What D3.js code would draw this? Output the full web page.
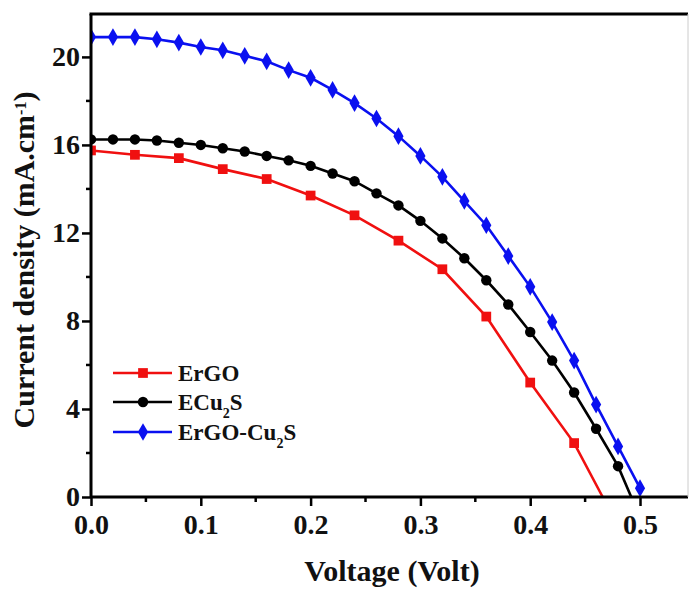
<!DOCTYPE html>
<html>
<title>J-V curves</title>
<meta charset="UTF-8">
<script type="text/javascript" src="https://d3js.org/d3.v7.min.js"></script>
<style type="text/css">
	body { margin:0; background:white; }
	text { font-family: "Liberation Serif", "Times New Roman", serif; font-weight: bold; fill: #111; }
</style>
<body>
<svg id="viz"></svg>
<script type="text/javascript">

// voltage (V) and current density (mA/cm2)
var voltErgo = [0, 0.04, 0.08, 0.12, 0.16, 0.20, 0.24, 0.28, 0.32, 0.36, 0.40, 0.44, 0.466];
var curErgo  = [15.75, 15.55, 15.4, 14.9, 14.45, 13.7, 12.8, 11.65, 10.35, 8.2, 5.2, 2.45, 0];

var voltCu2s = [0, 0.02, 0.04, 0.06, 0.08, 0.10, 0.12, 0.14, 0.16, 0.18, 0.20, 0.22, 0.24,
	0.26, 0.28, 0.30, 0.32, 0.34, 0.36, 0.38, 0.40, 0.42, 0.44, 0.46, 0.48, 0.492];
var curCu2s  = [16.25, 16.25, 16.25, 16.2, 16.1, 16.0, 15.85, 15.7, 15.5, 15.3, 15.05, 14.7, 14.35,
	13.8, 13.25, 12.55, 11.75, 10.85, 9.85, 8.75, 7.5, 6.2, 4.75, 3.1, 1.4, 0];

var voltMix = [0, 0.02, 0.04, 0.06, 0.08, 0.10, 0.12, 0.14, 0.16, 0.18, 0.20, 0.22, 0.24,
	0.26, 0.28, 0.30, 0.32, 0.34, 0.36, 0.38, 0.40, 0.42, 0.44, 0.46, 0.48, 0.50];
var curMix  = [20.9, 20.9, 20.9, 20.8, 20.65, 20.45, 20.3, 20.05, 19.8, 19.4, 19.05, 18.5, 17.9,
	17.2, 16.4, 15.5, 14.55, 13.45, 12.35, 10.95, 9.55, 7.95, 6.2, 4.2, 2.3, 0.4];

var xTicks = [0, 0.1, 0.2, 0.3, 0.4, 0.5];
var yTicks = [0, 4, 8, 12, 16, 20];

var series = [
	{name: "ErGO", volt: voltErgo, cur: curErgo, color: "#f01010", shape: d3.symbolSquare, size: 95, marks: 12},
	{name: "ECu2S", volt: voltCu2s, cur: curCu2s, color: "#000000", shape: d3.symbolCircle, size: 85, marks: 25},
	{name: "ErGO-Cu2S", volt: voltMix, cur: curMix, color: "#0a10f0", shape: d3.symbolDiamond, size: 90, marks: 26}
];

var W = 690, H = 591;
var padL = 91, padR = 688, padT = 14, padB = 497;

var svg = d3.select("#viz").attr("width", W).attr("height", H);

var xScale = d3.scaleLinear().domain([0, 0.5437]).range([padL, padR]);
var yScale = d3.scaleLinear().domain([0, 21.95]).range([padB, padT]);

// clip so the lines stop at the zero axis
svg.append("clipPath").attr("id", "plotclip")
	.append("rect").attr("x", padL).attr("y", padT).attr("width", padR - padL).attr("height", padB - padT + 4);

var line = d3.line()
	.x(function(d){ return xScale(d[0]); })
	.y(function(d){ return yScale(d[1]); });

var plot = svg.append("g").attr("clip-path", "url(#plotclip)");

series.forEach(function(s){
	var pts = s.volt.map(function(v, i){ return [v, s.cur[i]]; });
	plot.append("path")
		.attr("d", line(pts))
		.attr("fill", "none")
		.attr("stroke", s.color)
		.attr("stroke-width", 2.6);
	plot.selectAll(null)
		.data(pts.slice(0, s.marks))
		.enter().append("path")
		.attr("d", d3.symbol().type(s.shape).size(s.size))
		.attr("transform", function(d){ return "translate(" + xScale(d[0]) + "," + yScale(d[1]) + ")"; })
		.attr("fill", s.color);
});

// axes
var xAxis = d3.axisBottom(xScale).tickValues(xTicks).tickFormat(d3.format(".1f")).tickSize(9).tickPadding(6);
var gx = svg.append("g").attr("transform", "translate(0," + padB + ")").call(xAxis);
gx.selectAll(".tick line").attr("stroke-width", 2.5);
gx.selectAll(".tick text").attr("font-size", "28px").attr("dy", "0.8em");
gx.select(".domain").attr("stroke-width", 3).attr("d", "M" + padL + ",0H" + padR);

svg.append("g").attr("transform", "translate(0," + padB + ")")
	.selectAll("line").data([0.05, 0.15, 0.25, 0.35, 0.45]).enter().append("line")
	.attr("x1", function(d){ return xScale(d); }).attr("x2", function(d){ return xScale(d); })
	.attr("y1", 0).attr("y2", 5).attr("stroke", "#000").attr("stroke-width", 2.5);

var yAxis = d3.axisLeft(yScale).tickValues(yTicks).tickSize(9).tickPadding(2);
var gy = svg.append("g").attr("transform", "translate(" + padL + ",0)").call(yAxis);
gy.selectAll(".tick line").attr("stroke-width", 2.5);
gy.selectAll(".tick text").attr("font-size", "28px");
gy.select(".domain").attr("stroke-width", 3).attr("d", "M0," + padB + "V" + padT);

svg.append("g").attr("transform", "translate(" + padL + ",0)")
	.selectAll("line").data([2, 6, 10, 14, 18]).enter().append("line")
	.attr("y1", function(d){ return yScale(d); }).attr("y2", function(d){ return yScale(d); })
	.attr("x1", 0).attr("x2", -5).attr("stroke", "#000").attr("stroke-width", 2.5);

// frame
svg.append("line").attr("x1", padL - 1.5).attr("x2", padR).attr("y1", padT).attr("y2", padT)
	.attr("stroke", "#000").attr("stroke-width", 3);
svg.append("line").attr("x1", padR).attr("x2", padR).attr("y1", padT).attr("y2", padB)
	.attr("stroke", "#ccc").attr("stroke-width", 1);

// axis titles
svg.append("text").attr("x", 392).attr("y", 581).attr("text-anchor", "middle")
	.attr("font-size", "30px").text("Voltage (Volt)");

var yt = svg.append("text").attr("transform", "translate(34,260) rotate(-90)")
	.attr("text-anchor", "middle").attr("font-size", "30px");
yt.append("tspan").text("Current density (mA.cm");
yt.append("tspan").attr("baseline-shift", "super").attr("font-size", "16px").text("-1");
yt.append("tspan").text(")");

// legend
var legend = svg.append("g");
var legendY = [373, 402, 432];
series.forEach(function(s, i){
	var y = legendY[i];
	legend.append("line").attr("x1", 113).attr("x2", 172).attr("y1", y).attr("y2", y)
		.attr("stroke", s.color).attr("stroke-width", 2.6);
	legend.append("path").attr("d", d3.symbol().type(s.shape).size(s.size))
		.attr("transform", "translate(143," + y + ")").attr("fill", s.color);
	var t = legend.append("text").attr("x", 178).attr("y", y + 8).attr("font-size", "23px");
	if (s.name.indexOf("Cu2S") >= 0) {
		t.append("tspan").text(s.name.replace("Cu2S", "Cu"));
		t.append("tspan").attr("baseline-shift", "sub").attr("font-size", "14px").text("2");
		t.append("tspan").text("S");
	} else {
		t.text(s.name);
	}
});

</script>
</body>
</html>
